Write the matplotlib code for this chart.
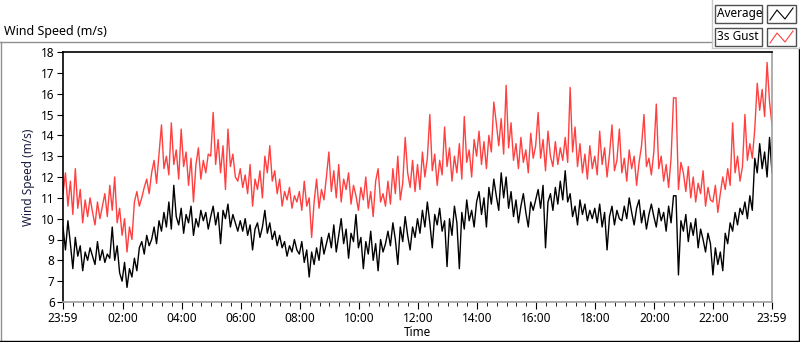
import numpy as np
import matplotlib
matplotlib.use("Agg")
import matplotlib.pyplot as plt
from matplotlib.lines import Line2D
from matplotlib.patches import Rectangle

plt.rcParams['font.family'] = ['Noto Sans', 'DejaVu Sans']

# 5 minute samples, starting 23:59 (one row per hour)
avg = [
    9.6, 8.5, 9.9, 8.8, 7.6, 9.1, 8.2, 8.7, 7.5, 8.4, 8.0, 8.6,
    8.2, 7.8, 8.9, 8.0, 8.5, 7.9, 8.3, 8.1, 9.6, 8.0, 8.7, 7.4,
    7.0, 7.9, 6.7, 7.6, 7.2, 8.1, 7.5, 8.6, 8.9, 8.3, 9.2, 8.7,
    9.0, 9.6, 8.8, 9.9, 9.4, 10.3, 9.6, 10.8, 9.5, 11.6, 10.1, 9.7,
    10.5, 9.3, 10.2, 9.8, 10.6, 9.2, 10.0, 9.6, 10.4, 9.9, 10.3, 9.5,
    10.1, 10.6, 9.7, 10.3, 8.8, 10.4, 10.0, 10.7, 9.6, 10.2, 9.8, 9.4,
    9.9, 9.4, 10.0, 9.2, 9.7, 8.5, 9.5, 9.8, 9.1, 9.6, 10.4, 9.3,
    9.8, 9.0, 9.4, 8.7, 9.2, 8.6, 8.9, 8.2, 8.7, 8.4, 9.0, 8.5,
    8.3, 8.9, 7.9, 8.5, 7.2, 8.4, 7.8, 8.6, 8.0, 9.1, 8.3, 8.8,
    9.3, 8.6, 9.7, 8.4, 9.2, 10.0, 8.8, 9.5, 8.1, 9.3, 8.9, 10.2,
    8.6, 9.1, 7.6, 8.9, 8.3, 9.4, 8.0, 8.8, 7.5, 9.0, 8.4, 8.8,
    9.4, 8.7, 9.8, 9.0, 7.8, 9.6, 8.9, 10.1, 9.2, 8.5, 9.6, 9.1,
    10.0, 9.3, 10.4, 9.6, 10.8, 9.8, 8.6, 10.2, 9.7, 10.5, 9.4, 9.9,
    7.7, 10.0, 9.2, 10.6, 9.8, 7.6, 10.3, 9.5, 10.9, 9.9, 10.4, 9.6,
    10.8, 11.3, 10.2, 11.0, 9.6, 11.5, 10.7, 11.9, 11.1, 10.4, 12.2, 11.0,
    12.0, 10.5, 11.3, 10.1, 10.9, 9.8, 10.6, 11.2, 10.3, 9.6, 10.8, 10.4,
    10.9, 11.4, 10.5, 11.6, 8.6, 10.8, 11.2, 10.4, 11.5, 10.7, 11.8, 10.9,
    12.3, 10.8, 11.2, 10.1, 10.6, 9.7, 10.9, 10.2, 10.7, 9.9, 10.4, 10.0,
    10.5, 9.8, 10.7, 9.6, 10.3, 8.5, 10.1, 10.6, 9.7, 10.4, 10.0, 9.9,
    10.6, 10.0, 11.0, 10.3, 9.7, 10.5, 10.9, 9.8, 10.4, 9.5, 10.2, 10.7,
    10.1, 9.6, 10.5, 9.9, 10.3, 9.4, 10.6, 9.8, 11.1, 11.1, 7.3, 9.9,
    9.4, 10.2, 8.9, 9.8, 9.2, 10.0, 8.6, 9.5, 9.0, 8.4, 9.3, 8.8,
    7.3, 8.6, 7.8, 8.4, 7.5, 9.3, 8.8, 9.8, 9.4, 10.3, 9.7, 10.5,
    10.2, 10.8, 10.0, 11.1, 10.4, 12.9, 12.2, 13.6, 12.4, 13.2, 12.0, 13.9,
    12.2,
]
gust = [
    11.2, 12.2, 10.6, 11.8, 10.2, 12.4, 10.5, 11.4, 9.8, 10.9, 10.1, 11.0,
    10.3, 9.7, 10.8, 10.0, 10.6, 11.2, 10.1, 11.6, 10.4, 12.0, 9.8, 10.5,
    9.2, 10.0, 8.4, 9.6, 9.0, 10.8, 11.3, 10.6, 11.0, 11.5, 11.9, 11.2,
    12.2, 12.8, 11.7, 13.1, 14.5, 12.4, 13.0, 12.1, 14.6, 12.6, 13.3, 11.9,
    14.3, 12.5, 13.2, 11.6, 12.9, 10.8, 12.6, 13.4, 11.9, 12.8, 12.2, 13.1,
    13.0, 15.1, 12.6, 13.8, 12.2, 13.5, 11.4, 14.3, 12.5, 13.1, 12.0, 11.8,
    12.4, 11.5, 12.1, 11.2, 12.6, 10.6, 11.9, 11.4, 12.3, 11.0, 13.0, 12.2,
    13.5, 11.8, 12.3, 11.2, 11.9, 10.6, 11.3, 10.9, 11.5, 10.5, 11.1, 10.8,
    11.3, 10.4, 11.8, 10.6, 11.0, 9.1, 10.8, 11.9, 10.5, 11.4, 10.9, 12.0,
    13.2, 11.3, 12.3, 11.0, 12.6, 10.8, 11.9, 11.4, 12.2, 10.7, 11.6, 11.1,
    10.4, 11.5, 10.9, 12.0, 10.5, 11.3, 10.1, 11.8, 12.4, 10.8, 11.2, 10.6,
    11.8, 10.7, 12.4, 11.2, 13.0, 10.9, 11.7, 13.9, 12.2, 11.5, 12.8, 11.3,
    12.6, 11.4, 13.2, 12.0, 12.9, 15.0, 12.3, 13.1, 11.6, 12.8, 12.1, 14.4,
    12.5, 13.4, 11.8, 13.0, 12.2, 13.6, 11.9, 14.9, 12.7, 13.3, 12.0, 13.8,
    13.0, 14.2, 12.6, 13.7, 12.4, 14.0, 13.2, 15.6, 14.6, 13.5, 14.8, 13.1,
    16.4, 13.4, 14.6, 12.8, 13.6, 12.4, 13.9, 12.7, 13.3, 12.2, 14.1, 12.9,
    13.5, 15.1, 12.9, 13.8, 12.3, 14.2, 13.0, 12.5, 13.7, 12.6, 13.4, 12.8,
    13.9, 12.7, 16.3, 13.2, 14.4, 12.5, 13.6, 12.2, 13.1, 11.9, 13.5, 12.4,
    13.0, 12.1, 14.2, 12.6, 13.4, 12.0, 13.1, 14.5, 12.3, 12.8, 14.3, 12.2,
    12.9, 11.8, 13.3, 12.4, 13.0, 11.6, 12.7, 13.5, 15.0, 12.5, 12.9, 12.1,
    13.2, 15.5, 12.4, 13.0, 11.8, 12.6, 11.5, 12.9, 15.8, 15.8, 11.4, 12.7,
    12.2, 11.3, 12.5, 11.0, 12.0, 10.8, 11.7, 11.2, 12.3, 10.6, 11.5, 10.9,
    10.8, 11.6, 10.3, 11.2, 12.0, 11.4, 12.4, 11.6, 14.6, 12.2, 13.0, 11.8,
    12.5, 15.0, 12.8, 13.6, 12.9, 14.3, 16.5, 15.2, 16.2, 14.9, 17.5, 15.6,
    14.5,
]
tick_labels = ['23:59', '02:00', '04:00', '06:00', '08:00', '10:00', '12:00',
               '14:00', '16:00', '18:00', '20:00', '22:00', '23:59']

minutes = np.arange(len(avg)) * 5  # minutes after 23:59

fig = plt.figure(figsize=(8, 3.42), dpi=100)
ax = fig.add_axes([63 / 800, 1 - 302 / 342, 709 / 800, 250 / 342])

ax.plot(minutes, gust, color='#ff4040', lw=1.0)
ax.plot(minutes, avg, color='black', lw=1.0)

ax.set_xlim(0, 1440)
ax.set_ylim(6, 18)
ax.set_yticks(range(6, 19))
major = [0] + [121 + 120 * k for k in range(11)] + [1440]
ax.set_xticks(major)
ax.set_xticklabels(tick_labels)
ax.set_xticks([m for m in range(1, 1440, 20) if m not in major and m > 5], minor=True)
ax.tick_params(axis='both', labelsize=8.5, direction='out', pad=2)
ax.tick_params(axis='x', which='major', length=5, color='black')
ax.tick_params(axis='x', which='minor', length=3, color='black')
ax.tick_params(axis='y', length=4)

for s in ['top', 'left']:
    ax.spines[s].set_color('black')
    ax.spines[s].set_linewidth(1.2)
for s in ['right', 'bottom']:
    ax.spines[s].set_color('#a0a0a0')
    ax.spines[s].set_linewidth(1.2)

ax.set_ylabel('Wind Speed (m/s)', fontsize=8.5, color='#1a1a40', labelpad=4)
ax.set_xlabel('Time', fontsize=8.5, labelpad=1)

# chart frame and caption
def px(x, y):
    return x / 800, 1 - y / 342

fig.text(*px(4, 32), 'Wind Speed (m/s)', fontsize=9, va='center', ha='left')
for (x0, y0, x1, y1, c) in [(0, 42, 712, 42, '#909090'), (0.5, 42, 0.5, 341, '#909090'),
                            (0, 341, 800, 341, 'black'), (799, 48, 799, 341, 'black'),
                            (712, 0, 712, 48, '#c8c8c8'), (712, 48, 800, 48, '#c8c8c8')]:
    (a, b), (c2, d) = px(x0, y0), px(x1, y1)
    fig.add_artist(Line2D([a, c2], [b, d], color=c, lw=1, transform=fig.transFigure))

# legend boxes
for row, (name, col) in enumerate([('Average', 'black'), ('3s Gust', '#ff4040')]):
    top = 5 + row * 23
    x0, y0 = px(715, top + 18)
    fig.add_artist(Rectangle((x0, y0), 47 / 800, 18 / 342, transform=fig.transFigure,
                             facecolor='white', edgecolor='#505050', lw=1))
    fig.text(*px(717, top + 9), name, fontsize=8.5, va='center', ha='left')
    x0, y0 = px(767, top + 18)
    fig.add_artist(Rectangle((x0, y0), 29 / 800, 18 / 342, transform=fig.transFigure,
                             facecolor='white', edgecolor='#505050', lw=1))
    xs = [770, 777, 785, 793]
    ys = [top + 15, top + 5, top + 14, top + 3]
    pts = [px(a, b) for a, b in zip(xs, ys)]
    fig.add_artist(Line2D([p[0] for p in pts], [p[1] for p in pts], color=col, lw=0.8,
                          transform=fig.transFigure))

fig.savefig('out.png', dpi=100)
